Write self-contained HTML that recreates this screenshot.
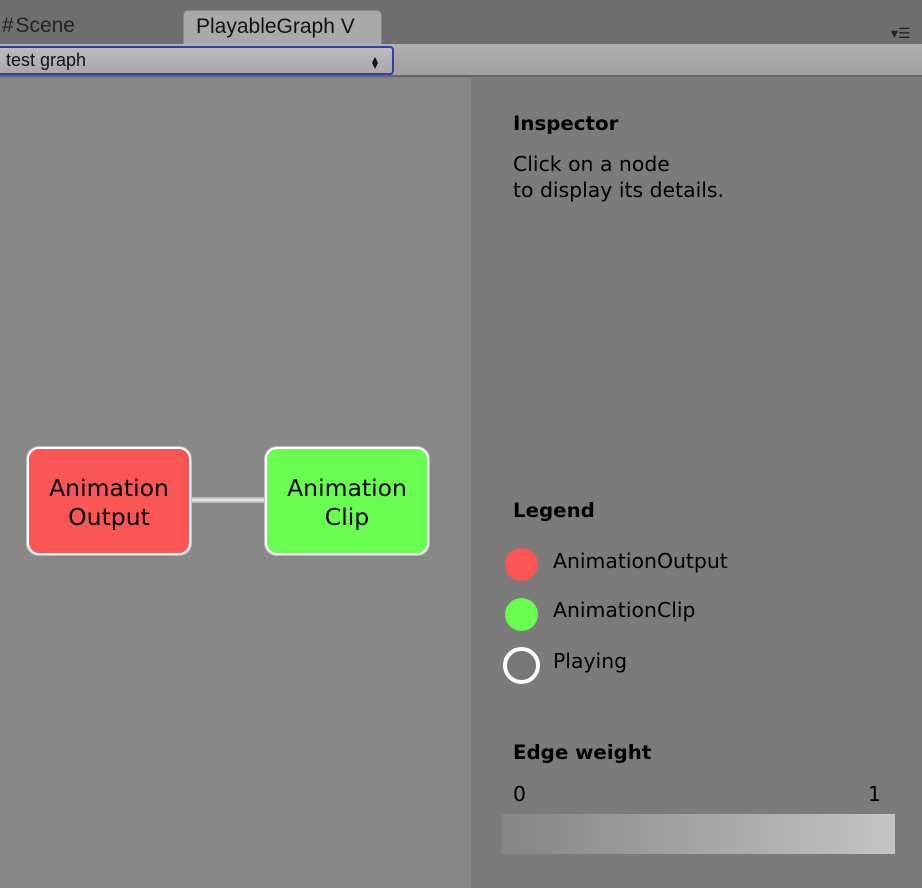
<!DOCTYPE html>
<html><head><style>
body{margin:0;width:922px;height:888px;overflow:hidden;background:#7b7b7b;font-family:"DejaVu Sans","Liberation Sans",sans-serif;position:relative}
div{position:absolute;box-sizing:border-box}
.t{color:#000;font-size:20.4px;white-space:nowrap}
.node{border:2px solid #fff;border-radius:12px;display:flex;align-items:center;justify-content:center;text-align:center;font-size:23.5px;line-height:29px;padding-top:4px;color:#000;box-shadow:0 0 0 1px #bbb}
.dot{width:33px;height:33px;border-radius:50%}
</style></head><body>
<div style="left:0;top:0;width:922px;height:44px;background:#6e6e6e"></div>
<div class="t" style="left:2px;top:14px;font-size:21px;color:#222;font-family:'Liberation Sans',sans-serif">#&#8202;Scene</div>
<div style="left:183px;top:10px;width:199px;height:35px;background:#a9a9a9;border:1px solid #888;border-bottom:none;border-radius:5px 5px 0 0"></div>
<div class="t" style="left:196px;top:15px;font-size:21px;color:#111;font-family:'Liberation Sans',sans-serif">PlayableGraph V</div>
<div class="t" style="left:891px;top:26px;font-size:14px;color:#222">▾☰</div>
<div style="left:0;top:44px;width:922px;height:33px;background:linear-gradient(#b0b0b0,#a0a0a0);border-bottom:2px solid #666"></div>
<div style="left:-4px;top:46px;width:398px;height:29px;border:2px solid #2e3fb0;border-radius:4px;background:linear-gradient(#bcbcbc,#a8a8a8)"></div>
<div class="t" style="left:6px;top:50px;font-size:18px;color:#111;font-family:'Liberation Sans',sans-serif">test graph</div>
<div class="t" style="left:372px;top:52px;font-size:12px;color:#111">▴</div>
<div class="t" style="left:372px;top:58px;font-size:12px;color:#111">▾</div>
<div style="left:0;top:78px;width:471px;height:810px;background:#888"></div>
<div style="left:190px;top:497px;width:76px;height:6px;background:linear-gradient(#aaa,#f0f0f0,#aaa)"></div>
<div class="node" style="left:27px;top:447px;width:164px;height:108px;background:#fb5656">Animation<br>Output</div>
<div class="node" style="left:265px;top:447px;width:164px;height:108px;background:#69fd51">Animation<br>Clip</div>
<div class="t" style="left:513px;top:112px;font-weight:bold;font-size:19.8px">Inspector</div>
<div class="t" style="left:513px;top:151px;line-height:26px">Click on a node<br>to display its details.</div>
<div class="t" style="left:513px;top:499px;font-weight:bold;font-size:19.8px">Legend</div>
<div class="dot" style="left:505px;top:548px;background:#fb5656"></div>
<div class="t" style="left:553px;top:549px">AnimationOutput</div>
<div class="dot" style="left:505px;top:598px;background:#69fd51"></div>
<div class="t" style="left:553px;top:598px">AnimationClip</div>
<div class="dot" style="left:503px;top:647px;width:37px;height:37px;border:4px solid #fff;background:#777"></div>
<div class="t" style="left:553px;top:649px">Playing</div>
<div class="t" style="left:513px;top:741px;font-weight:bold;font-size:19.8px">Edge weight</div>
<div class="t" style="left:513px;top:782px">0</div>
<div class="t" style="left:868px;top:782px">1</div>
<div style="left:501px;top:814px;width:394px;height:40px;background:linear-gradient(90deg,#858585,#c4c4c4)"></div>
</body></html>
